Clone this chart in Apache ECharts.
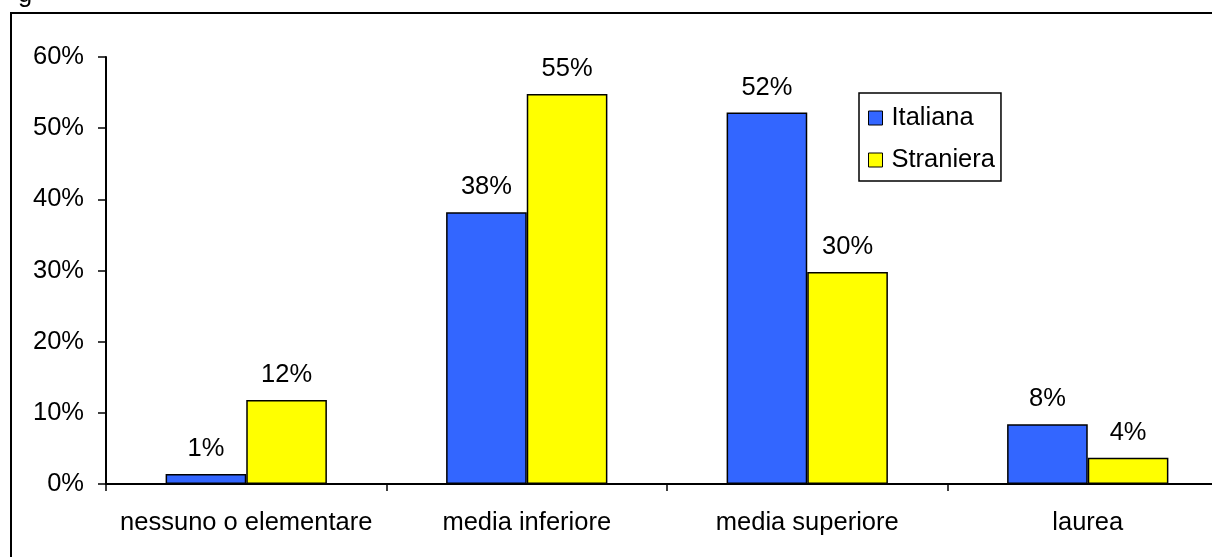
<!DOCTYPE html>
<html>
<head>
<meta charset="utf-8">
<script src="https://cdn.jsdelivr.net/npm/echarts@6/dist/echarts.min.js"></script>
<style>
html,body{margin:0;padding:0;background:#fff;}
#chart{width:1212px;height:557px;}
</style>
</head>
<body>
<div id="chart"></div>
<script>
const categories = ['nessuno o elementare', 'media inferiore', 'media superiore', 'laurea'];
const italiana = [1.4, 38.2, 52.2, 8.4];
const straniera = [11.8, 54.8, 29.8, 3.7];
const seriesNames = ['Italiana', 'Straniera'];

const FONT = '"Liberation Sans", Arial, sans-serif';
const FS = 25.5;
const chart = echarts.init(document.getElementById('chart'));

function barSeries(name, data, color) {
  return {
    name: name,
    type: 'bar',
    data: data,
    barGap: '0%',
    barCategoryGap: '42.5%',
    itemStyle: { color: color, borderColor: '#000', borderWidth: 1.5 },
    label: {
      show: true,
      position: 'top',
      distance: 12,
      color: '#000',
      fontFamily: FONT,
      fontSize: FS,
      formatter: p => Math.round(p.value) + '%'
    }
  };
}

chart.setOption({
  animation: false,
  backgroundColor: '#fff',
  textStyle: { fontFamily: FONT },
  graphic: [
    { type: 'rect', shape: { x: 11, y: 13, width: 1300, height: 700 },
      style: { fill: 'none', stroke: '#000', lineWidth: 2 }, z: -1 },
    { type: 'text', x: 18, y: -18,
      style: { text: 'g', fontFamily: FONT, fontSize: FS, fill: '#000' } }
  ],
  grid: { left: 106, top: 57, width: 1122, height: 427, containLabel: false, outerBoundsMode: 'none' },
  legend: {
    orient: 'vertical',
    left: 859, top: 93,
    padding: [12, 6, 8, 9],
    itemWidth: 14, itemHeight: 14, itemGap: 16,
    borderColor: '#000', borderWidth: 1.5, borderRadius: 0,
    backgroundColor: '#fff',
    icon: 'rect',
    itemStyle: { borderColor: '#000', borderWidth: 1 },
    textStyle: { fontFamily: FONT, fontSize: FS, color: '#000', padding: [0, 0, 0, 4] },
    data: seriesNames
  },
  xAxis: {
    type: 'category',
    data: categories,
    axisLine: { lineStyle: { color: '#000', width: 2 } },
    axisTick: { show: true, interval: 0, length: 7, lineStyle: { color: '#000', width: 1.5 } },
    axisLabel: { interval: 0, color: '#000', fontFamily: FONT, fontSize: FS, margin: 26 }
  },
  yAxis: {
    type: 'value',
    min: 0, max: 60, interval: 10,
    axisLine: { show: true, lineStyle: { color: '#000', width: 2 } },
    axisTick: { show: true, length: 8, lineStyle: { color: '#000', width: 1.5 } },
    splitLine: { show: false },
    axisLabel: { color: '#000', fontFamily: FONT, fontSize: FS, margin: 22, formatter: '{value}%' }
  },
  series: [
    barSeries(seriesNames[0], italiana, '#3366FF'),
    barSeries(seriesNames[1], straniera, '#FFFF00')
  ]
});
</script>
</body>
</html>
